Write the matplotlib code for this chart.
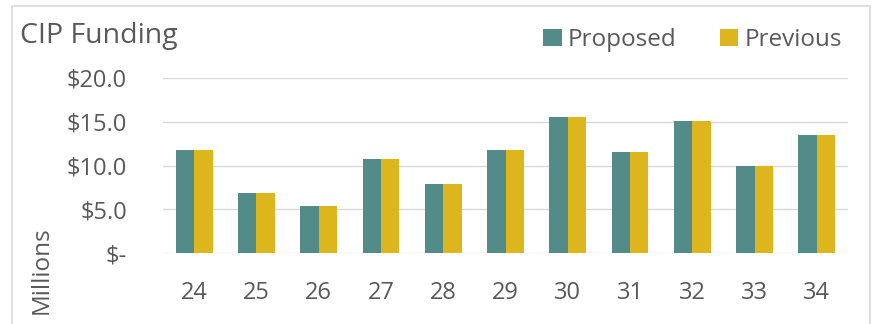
import numpy as np
import matplotlib.pyplot as plt
from matplotlib.patches import Rectangle

years = ['24', '25', '26', '27', '28', '29', '30', '31', '32', '33', '34']
proposed = [11.8, 6.9, 5.4, 10.7, 7.9, 11.8, 15.5, 11.5, 15.1, 9.9, 13.5]
previous = [11.8, 6.9, 5.4, 10.7, 7.9, 11.8, 15.5, 11.5, 15.1, 9.9, 13.5]
yticks = [0, 5, 10, 15, 20]
ytick_labels = ['$-', '$5.0', '$10.0', '$15.0', '$20.0']

teal = '#528B87'
gold = '#DDB61E'
grey = '#595959'

plt.rcParams['font.family'] = ['Open Sans', 'DejaVu Sans']

fig = plt.figure(figsize=(8.76, 3.24), dpi=100)
ax = fig.add_axes([163 / 876, 1 - 253 / 324, (848 - 163) / 876, (253 - 78) / 324])

# outer chart frame
fig.patches.append(Rectangle((12 / 876, -0.1), (870 - 12) / 876, 1.1 - 6 / 324,
                             transform=fig.transFigure, fill=False,
                             edgecolor='#D9D9D9', linewidth=1.2))

x = np.arange(len(years))
w = 0.295
ax.bar(x - w / 2, proposed, w, color=teal, label='Proposed', zorder=3)
ax.bar(x + w / 2, previous, w, color=gold, label='Previous', zorder=3)

ax.set_xlim(-0.5, len(years) - 0.5)
ax.set_ylim(0, 20)
ax.set_yticks(yticks)
ax.set_yticklabels(ytick_labels)
ax.set_xticks(x)
ax.set_xticklabels(years)
ax.tick_params(axis='both', length=0, labelsize=17, colors=grey)
ax.tick_params(axis='x', pad=20)
ax.tick_params(axis='y', pad=26)
ax.grid(axis='y', color='#D9D9D9', linewidth=1, zorder=0)
for s in ax.spines.values():
    s.set_visible(False)

fig.text(20 / 876, 1 - 43 / 324, 'CIP Funding', fontsize=20.5, color=grey,
         ha='left', va='baseline')
fig.text(42 / 876, 1 - 270 / 324, 'Millions', fontsize=17.5, color=grey,
         rotation=90, ha='center', va='center')

fig.legend(loc='center right', bbox_to_anchor=(842 / 876, 1 - 40 / 324), ncol=2,
           frameon=False, fontsize=17.5, labelcolor=grey, handlelength=0.75,
           handleheight=0.75, handletextpad=0.25, columnspacing=1.8,
           borderaxespad=0, borderpad=0)

plt.savefig('out.png', dpi=100)
